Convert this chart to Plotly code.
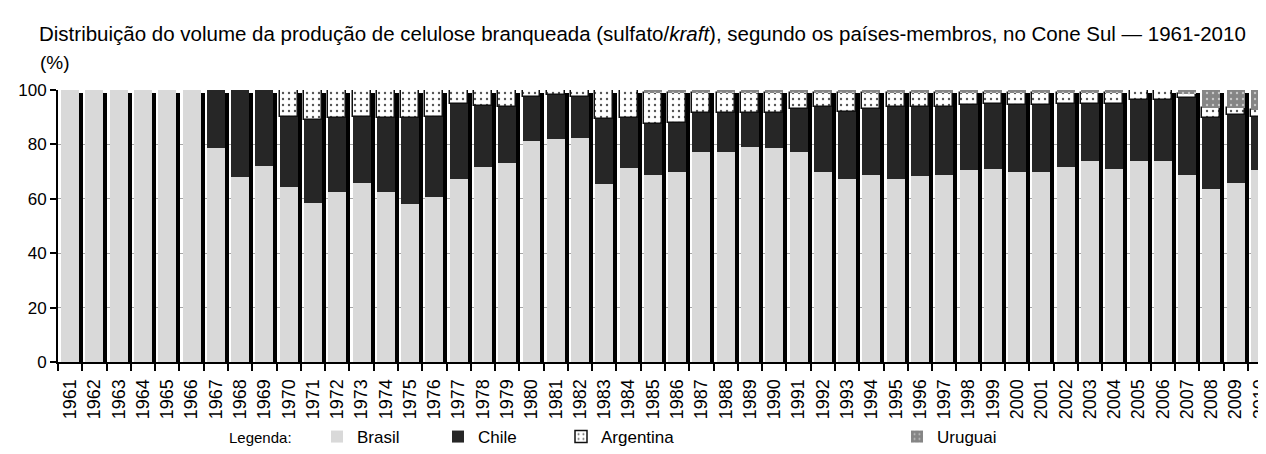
import plotly.graph_objects as go

anos = [str(a) for a in range(1961, 2011)]

brasil = [100, 100, 100, 100, 100, 100, 78.8, 68.1, 72.1, 64.5,
          58.5, 62.5, 65.8, 62.5, 58.1, 60.7, 67.3, 71.7, 73.2, 81.3,
          82.0, 82.4, 65.4, 71.3, 68.8, 69.9, 77.2, 77.2, 79.0, 78.6,
          77.2, 69.9, 67.3, 68.8, 67.3, 68.4, 68.8, 70.6, 71.0, 69.9,
          69.9, 71.7, 73.9, 71.0, 73.9, 73.9, 68.8, 63.6, 65.8, 70.6]

chile = [0, 0, 0, 0, 0, 0, 21.2, 31.9, 27.9, 25.7,
         30.5, 27.1, 24.4, 27.1, 31.5, 29.5, 27.6, 22.5, 20.4, 16.0,
         16.3, 14.9, 23.8, 18.5, 18.8, 18.1, 14.2, 14.2, 12.4, 12.8,
         15.7, 23.7, 24.7, 24.1, 26.3, 25.4, 24.8, 23.8, 23.7, 24.5,
         24.5, 23.0, 20.8, 23.7, 22.3, 22.3, 28.3, 26.0, 25.1, 19.6]

argentina = [0, 0, 0, 0, 0, 0, 0, 0, 0, 9.8,
             11.0, 10.4, 9.8, 10.4, 10.4, 9.8, 5.1, 5.8, 6.4, 2.7,
             1.7, 2.7, 10.8, 10.2, 11.2, 10.8, 7.4, 7.4, 7.4, 7.4,
             6.1, 5.4, 7.0, 6.1, 5.4, 5.2, 5.4, 4.6, 4.3, 4.6,
             4.6, 4.3, 4.3, 4.3, 3.8, 3.8, 1.4, 3.7, 2.4, 2.4]

uruguai = [0, 0, 0, 0, 0, 0, 0, 0, 0, 0,
           0, 0, 0, 0, 0, 0, 0, 0, 0, 0,
           0, 0, 0, 0, 1.2, 1.2, 1.2, 1.2, 1.2, 1.2,
           1.0, 1.0, 1.0, 1.0, 1.0, 1.0, 1.0, 1.0, 1.0, 1.0,
           1.0, 1.0, 1.0, 1.0, 0, 0, 1.5, 6.7, 6.7, 7.4]

y_ticks = [0, 20, 40, 60, 80, 100]

FONT = "Arial, 'Liberation Sans', sans-serif"
# the page body has an 8px margin, so the figure starts at (8, 8) in the window
OFF = 8
W, H = 1266 - OFF, 454 - OFF
ML, MT, MB, MR = 58 - OFF, 90 - OFF, 92, 0
PW, PH = W - ML - MR, H - MT - MB

BAR_W = 0.74
BAR_OFF = -0.37
SHADOW_DX = 0.165
SHADOW_DROP = 1.1


def cx(px):  # window pixel x -> container fraction
    return (px - OFF) / W


def cy(py):  # window pixel y -> container fraction
    return 1 - (py - OFF) / H


def pxp(px):  # window pixel x -> paper fraction
    return (px - OFF - ML) / PW


def pyp(py):  # window pixel y -> paper fraction
    return (H - MB - (py - OFF)) / PH


base_chile = list(brasil)
base_arg = [b + c for b, c in zip(brasil, chile)]
base_uru = [b + c + a for b, c, a in zip(brasil, chile, argentina)]
totals = [b + c + a + u for b, c, a, u in zip(brasil, chile, argentina, uruguai)]
shadow = [t - SHADOW_DROP for t in totals]
zeros = [0] * len(anos)

fig = go.Figure()

# 3D-like black shadow behind each column
fig.add_trace(go.Bar(
    x=anos, y=shadow, base=zeros, width=BAR_W, offset=BAR_OFF + SHADOW_DX,
    marker=dict(color="#000000", line=dict(width=0)), showlegend=False, hoverinfo="skip",
    cliponaxis=False))

fig.add_trace(go.Bar(
    x=anos, y=brasil, base=zeros, name="Brasil", width=BAR_W, offset=BAR_OFF,
    marker=dict(color="#d9d9d9", line=dict(width=0)), legend="legend", cliponaxis=False))

fig.add_trace(go.Bar(
    x=anos, y=chile, base=base_chile, name="Chile", width=BAR_W, offset=BAR_OFF,
    marker=dict(color="#262626", line=dict(width=0)), legend="legend2", cliponaxis=False))

fig.add_trace(go.Bar(
    x=anos, y=argentina, base=base_arg, name="Argentina", width=BAR_W, offset=BAR_OFF,
    marker=dict(color="#ffffff", line=dict(width=1.5, color="#111111"),
                pattern=dict(shape=".", fgcolor="#555555", bgcolor="#ffffff",
                             size=6, solidity=0.12, fillmode="replace")),
    legend="legend3", cliponaxis=False))

fig.add_trace(go.Bar(
    x=anos, y=uruguai, base=base_uru, name="Uruguai", width=BAR_W, offset=BAR_OFF,
    marker=dict(color="#858585", line=dict(width=0),
                pattern=dict(shape=".", fgcolor="#c8c8c8", bgcolor="#858585",
                             size=6, solidity=0.12, fillmode="replace")),
    legend="legend4", cliponaxis=False))

legend_common = dict(font=dict(family=FONT, size=17, color="#000"),
                     bgcolor="rgba(0,0,0,0)", borderwidth=0, itemwidth=30,
                     xref="container", yref="container", xanchor="left", yanchor="middle",
                     orientation="h", tracegroupgap=0)
leg_y = cy(437)

fig.update_layout(
    width=W, height=H,
    barmode="overlay",
    bargap=0,
    plot_bgcolor="white", paper_bgcolor="white",
    margin=dict(l=ML, r=MR, t=MT, b=MB, autoexpand=False),
    font=dict(family=FONT, size=16, color="#000"),
    title=dict(text="Distribuição do volume da produção de celulose branqueada (sulfato/<i>kraft</i>), segundo os países-membros, no Cone Sul — 1961-2010",
               x=cx(39), xref="container", xanchor="left", y=cy(34), yref="container",
               yanchor="middle", font=dict(family=FONT, size=20.5, color="#000")),
    legend=dict(x=cx(317), y=leg_y, **legend_common),
    legend2=dict(x=cx(438), y=leg_y, **legend_common),
    legend3=dict(x=cx(561), y=leg_y, **legend_common),
    legend4=dict(x=cx(897), y=leg_y, **legend_common),
    xaxis=dict(type="category", range=[-0.5, 49.25], tickson="boundaries",
               ticks="outside", ticklen=7, tickwidth=2, tickcolor="#000",
               showline=True, linewidth=2, linecolor="#000", showgrid=False,
               tickangle=-90, ticklabelstandoff=8,
               tickfont=dict(family=FONT, size=18, color="#000")),
    yaxis=dict(range=[0, 100], tickvals=y_ticks, ticks="outside", ticklen=6, tickwidth=2,
               tickcolor="#000", showline=True, linewidth=2, linecolor="#000",
               showgrid=True, gridcolor="#a6a6a6", gridwidth=1, zeroline=False,
               tickfont=dict(family=FONT, size=17, color="#000")),
    annotations=[
        dict(text="(%)", x=pxp(38), y=pyp(63), xref="paper", yref="paper",
             showarrow=False, xanchor="left", yanchor="middle",
             font=dict(family=FONT, size=19, color="#000")),
        dict(text="Legenda:", x=pxp(227), y=pyp(437), xref="paper", yref="paper",
             showarrow=False, xanchor="left", yanchor="middle",
             font=dict(family=FONT, size=15, color="#000")),
    ],
)

fig.write_html("out.html")
